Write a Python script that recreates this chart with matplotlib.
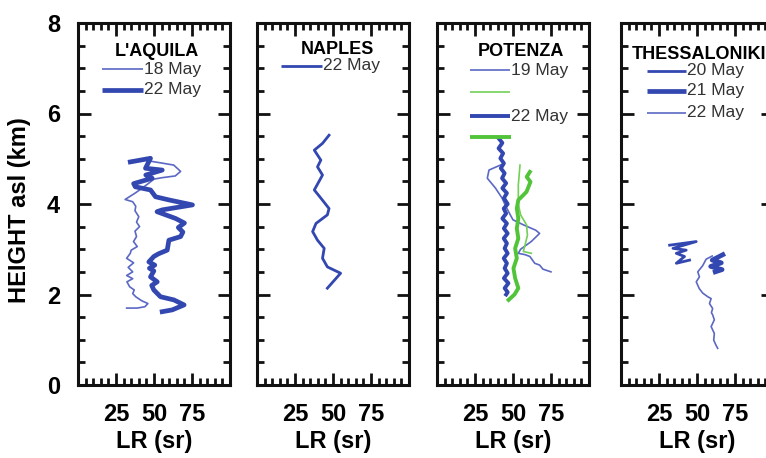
"""
Lidar ratio profiles at four stations (L'Aquila, Naples, Potenza, Thessaloniki)
"""

import matplotlib
matplotlib.use('Agg')
import matplotlib.pyplot as plt
from matplotlib.ticker import MultipleLocator, FixedLocator

plt.rcParams['font.family'] = ['Liberation Sans', 'DejaVu Sans']

# ---- data (LR in sr, height in km asl) ----
aq18_lr = [47, 56, 63, 67.5, 64, 55, 50, 45, 38, 31, 36, 38, 37.5, 40, 38.5, 40.5, 37.5,
           38.5, 36.5, 39, 35, 34.4, 32, 36.6, 33, 36, 32, 36, 32.2, 34, 37, 36, 38, 42,
           46, 44, 39, 32]
aq18_h = [4.95, 4.90, 4.86, 4.72, 4.62, 4.58, 4.55, 4.42, 4.25, 4.10, 4.05, 3.95, 3.85,
          3.72, 3.60, 3.50, 3.40, 3.28, 3.17, 3.06, 2.98, 2.91, 2.80, 2.70, 2.60, 2.50,
          2.42, 2.35, 2.28, 2.17, 2.10, 2.02, 1.95, 1.86, 1.80, 1.73, 1.70, 1.70]

aq22_lr = [34.4, 47.7, 44.4, 55.4, 44.6, 48.8, 36.6, 37.7, 47.7, 51, 59.8, 75.3, 55.4, 52,
           64.2, 70, 66, 69, 67.5, 59.8, 58.7, 53, 49.9, 46.6, 50.5, 47, 49.9, 47.7, 52.1,
           48.5, 49.9, 54.3, 63.1, 69.8, 62, 55.4]
aq22_h = [4.93, 5.01, 4.79, 4.75, 4.64, 4.57, 4.45, 4.38, 4.31, 4.16, 4.09, 3.98, 3.87,
          3.83, 3.68, 3.58, 3.48, 3.38, 3.28, 3.20, 2.98, 2.90, 2.84, 2.72, 2.65, 2.58,
          2.52, 2.39, 2.28, 2.20, 2.10, 1.95, 1.88, 1.77, 1.66, 1.62]

na22_lr = [47.4, 43.1, 37.7, 42, 39.8, 43.1, 37.7, 42, 47.4, 46.3, 38.8, 36.6, 39.8, 44.2,
           43.1, 46.3, 55, 46.3]
na22_h = [5.52, 5.34, 5.19, 4.97, 4.82, 4.64, 4.31, 4.13, 3.90, 3.76, 3.57, 3.39, 3.20,
          3.02, 2.80, 2.61, 2.47, 2.14]

po19_lr = [41.7, 34.2, 33.1, 38.5, 42.8, 46, 48.2, 50, 56.8, 65, 67.5, 62, 55, 53.5, 58,
           61.1, 64.3, 67.5, 69.7, 75]
po19_h = [4.86, 4.75, 4.57, 4.35, 4.13, 3.90, 3.76, 3.65, 3.54, 3.42, 3.35, 3.17, 3.00,
          2.91, 2.88, 2.84, 2.69, 2.65, 2.56, 2.50]

po19g_lr = [54.6, 53.5, 53.5, 55, 58.9, 59.5, 57.9, 56.8, 62.1]
po19g_h = [4.86, 4.42, 4.00, 3.76, 3.54, 3.31, 3.09, 2.95, 2.91]

po22_lr = [40.6, 43, 40.5, 43.5, 41.7, 44, 42, 44.5, 42.8, 45.5, 43, 46, 44, 46.5, 43.9,
           45.5, 43, 46, 44, 46.5, 43.9, 46, 44.5, 46.5, 43.9, 46, 44.5, 46.5, 44, 47,
           44.5, 46.5, 45.5]
po22_h = [5.45, 5.35, 5.23, 5.12, 5.01, 4.90, 4.79, 4.68, 4.57, 4.46, 4.35, 4.24, 4.13,
          4.00, 3.90, 3.79, 3.68, 3.57, 3.46, 3.35, 3.24, 3.13, 3.02, 2.91, 2.80, 2.69,
          2.58, 2.47, 2.36, 2.25, 2.14, 2.05, 2.00]

po22g_lr = [61.1, 59, 61.5, 58.9, 55.7, 53.5, 52.5, 53.5, 52.5, 53.5, 51.4, 52.5, 50.3,
            51.4, 53.5, 51, 47.1]
po22g_h = [4.71, 4.60, 4.49, 4.27, 4.16, 4.09, 3.90, 3.68, 3.46, 3.24, 3.02, 2.80, 2.58,
           2.36, 2.14, 2.00, 1.88]

th20_lr = [32, 49.5, 34.2, 42.9, 36.4, 41.8, 36.4, 45.1]
th20_h = [3.09, 3.17, 3.02, 2.98, 2.91, 2.84, 2.69, 2.76]

th21_lr = [67, 60, 66, 59, 66.5, 62]
th21_h = [2.88, 2.76, 2.70, 2.62, 2.55, 2.50]

th22_lr = [60, 56, 53.8, 50.5, 51.6, 49.5, 51.5, 53.8, 57.1, 59.3, 58.2, 60.3, 59.5, 60.3,
           61.4, 59.3, 61.4, 61, 62.5, 63.6]
th22_h = [2.85, 2.78, 2.64, 2.50, 2.39, 2.28, 2.13, 2.03, 1.95, 1.91, 1.80, 1.69, 1.60,
          1.55, 1.44, 1.29, 1.14, 0.99, 0.88, 0.81]

x_ticks = [25, 50, 75]
y_ticks = [0, 2, 4, 6, 8]

# ---- styles ----
BLUE = '#3347b0'
BLUE_THIN = '#5b68c4'
GREEN = '#52c43a'
GREEN_THIN = '#74cf58'
LEGEND_COLOR = '#333333'

W, H = 766, 458
panel_left_px = [78, 257, 437, 621]
panel_w_px = 152
panel_bottom_px = 73
panel_h_px = 362


def add_key(ax, y, color, lw, label, x0=16, x1=43):
    """Legend key: short line with label to its right (data coords)"""
    ax.plot([x0, x1], [y, y], color=color, lw=lw, solid_capstyle='butt')
    if label:
        ax.text(x1 + 0.5, y, label, fontsize=12.5, color=LEGEND_COLOR,
                va='center', ha='left')


fig = plt.figure(figsize=(W / 100, H / 100), dpi=100)

axes = []
for i, left in enumerate(panel_left_px):
    ax = fig.add_axes([left / W, panel_bottom_px / H, panel_w_px / W, panel_h_px / H])
    ax.set_xlim(0, 100)
    ax.set_ylim(0, 8)
    ax.xaxis.set_major_locator(FixedLocator(x_ticks))
    ax.xaxis.set_minor_locator(MultipleLocator(5))
    ax.yaxis.set_major_locator(FixedLocator(y_ticks))
    ax.yaxis.set_minor_locator(MultipleLocator(0.5))
    ax.tick_params(which='both', direction='in', top=True, right=True, width=2,
                   color='#111111')
    ax.tick_params(which='major', length=9)
    ax.tick_params(which='minor', length=5)
    ax.tick_params(axis='x', labelsize=17, pad=13)
    ax.tick_params(axis='y', labelsize=17, pad=13, labelleft=(i == 0))
    for lab in ax.get_xticklabels() + ax.get_yticklabels():
        lab.set_fontweight('bold')
    for sp in ax.spines.values():
        sp.set_linewidth(2.2)
        sp.set_color('#111111')
    ax.set_xlabel('LR (sr)', fontsize=17, fontweight='bold', labelpad=3)
    axes.append(ax)

# L'AQUILA
ax = axes[0]
ax.plot(aq18_lr, aq18_h, color=BLUE_THIN, lw=1.2)
ax.plot(aq22_lr, aq22_h, color=BLUE, lw=3.4)
ax.text(52, 7.36, "L'AQUILA", fontsize=13, fontweight='bold', ha='center', va='center')
add_key(ax, 6.98, BLUE_THIN, 1.2, '18 May')
add_key(ax, 6.52, BLUE, 3.4, '22 May')

# NAPLES
ax = axes[1]
ax.plot(na22_lr, na22_h, color=BLUE, lw=2.0)
ax.text(53, 7.42, 'NAPLES', fontsize=13, fontweight='bold', ha='center', va='center')
add_key(ax, 7.06, BLUE, 2.0, '22 May')

# POTENZA
ax = axes[2]
ax.plot(po19_lr, po19_h, color=BLUE_THIN, lw=1.2)
ax.plot(po19g_lr, po19g_h, color=GREEN_THIN, lw=1.2)
ax.plot(po22_lr, po22_h, color=BLUE, lw=2.8)
ax.plot(po22g_lr, po22g_h, color=GREEN, lw=2.8)
ax.text(55, 7.36, 'POTENZA', fontsize=13, fontweight='bold', ha='center', va='center')
add_key(ax, 6.96, BLUE_THIN, 1.2, '19 May', x0=22, x1=48)
add_key(ax, 6.48, GREEN_THIN, 1.2, '', x0=22, x1=48)
add_key(ax, 5.94, BLUE, 2.8, '22 May', x0=22, x1=48)
add_key(ax, 5.49, GREEN, 2.8, '', x0=22, x1=49)

# THESSALONIKI
ax = axes[3]
ax.plot(th20_lr, th20_h, color=BLUE, lw=2.0)
ax.plot(th21_lr, th21_h, color=BLUE, lw=3.4)
ax.plot(th22_lr, th22_h, color=BLUE_THIN, lw=1.2)
ax.text(7, 7.30, 'THESSALONIKI', fontsize=13, fontweight='bold', ha='left', va='center')
add_key(ax, 6.94, BLUE, 2.0, '20 May', x0=17, x1=43)
add_key(ax, 6.50, BLUE, 3.4, '21 May', x0=17, x1=43)
add_key(ax, 6.02, BLUE_THIN, 1.2, '22 May', x0=17, x1=43)

fig.text(20 / W, 1 - 210 / H, 'HEIGHT asl (km)', rotation=90, fontsize=17,
         fontweight='bold', ha='center', va='center')

fig.savefig('out.png', dpi=100)
